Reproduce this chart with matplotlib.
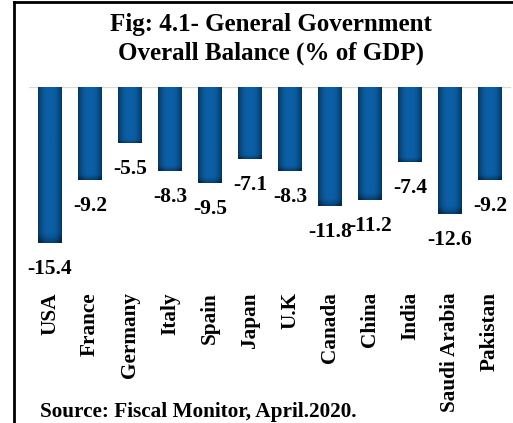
import numpy as np
import matplotlib.pyplot as plt
from matplotlib.colors import LinearSegmentedColormap
from matplotlib.lines import Line2D

countries = ['USA', 'France', 'Germany', 'Italy', 'Spain', 'Japan', 'U.K',
             'Canada', 'China', 'India', 'Saudi Arabia', 'Pakistan']
balance = [-15.4, -9.2, -5.5, -8.3, -9.5, -7.1, -8.3, -11.8, -11.2, -7.4, -12.6, -9.2]

plt.rcParams['font.family'] = ['Liberation Serif', 'DejaVu Serif']
plt.rcParams['font.weight'] = 'bold'

fig = plt.figure(figsize=(5.13, 4.23), dpi=100)
ax = fig.add_axes([29 / 513, 0.3884, 482 / 513, 0.4059])

x = np.arange(len(countries))
bars = ax.bar(x, balance, width=0.6, color='#0a5aa0', zorder=2)

# shaded look: darker at the sides and bottom of each bar
cmap = LinearSegmentedColormap.from_list('shade', ['#0b5fa6', '#03294b'])
u = np.linspace(-1, 1, 60)
v = np.linspace(0, 1, 200)
U, V = np.meshgrid(u, v)
shade = 0.75 * np.abs(U) ** 2.5 + 0.6 * np.clip((V - 0.93) / 0.07, 0, 1) ** 1.5
shade = np.clip(shade, 0, 1)
for b in bars:
    x0, w = b.get_x(), b.get_width()
    y1 = b.get_height()
    im = ax.imshow(shade, cmap=cmap, vmin=0, vmax=1, aspect='auto',
                   extent=[x0, x0 + w, y1, 0], origin='upper', zorder=3)
    im.set_clip_path(b)

for xi, val in zip(x, balance):
    ax.annotate('%.1f' % val, (xi, val), xytext=(0, -26), textcoords='offset pixels',
                ha='center', va='center', fontsize=15.5, fontweight='bold')

ax.axhline(0, color='#d9d9d9', lw=1.6, zorder=1)
ax.set_xlim(-0.525, 11.525)
ax.set_ylim(-17, 0)
ax.set_xticks(x)
ax.set_xticklabels(countries, rotation=90, va='top', ha='center', fontsize=15.3, fontweight='bold')
ax.tick_params(axis='x', length=0, pad=24)
ax.set_yticks([])
for s in ax.spines.values():
    s.set_visible(False)

fig.text(271 / 513, 1 - 31 / 423, 'Fig: 4.1- General Government', ha='center', va='baseline',
         fontsize=18, fontweight='bold')
fig.text(271 / 513, 1 - 60 / 423, 'Overall Balance (% of GDP)', ha='center', va='baseline',
         fontsize=18, fontweight='bold')
fig.text(40 / 513, 6 / 423, 'Source: Fiscal Monitor, April.2020.', ha='left', va='baseline',
         fontsize=15.3, fontweight='bold')

# frame lines on left and top edges
fig.add_artist(Line2D([14 / 513, 14 / 513], [0, 1 - 2 / 423], color='black', lw=2))
fig.add_artist(Line2D([14 / 513, 1], [1 - 2 / 423, 1 - 2 / 423], color='black', lw=2))

fig.savefig('out.png', dpi=100)
